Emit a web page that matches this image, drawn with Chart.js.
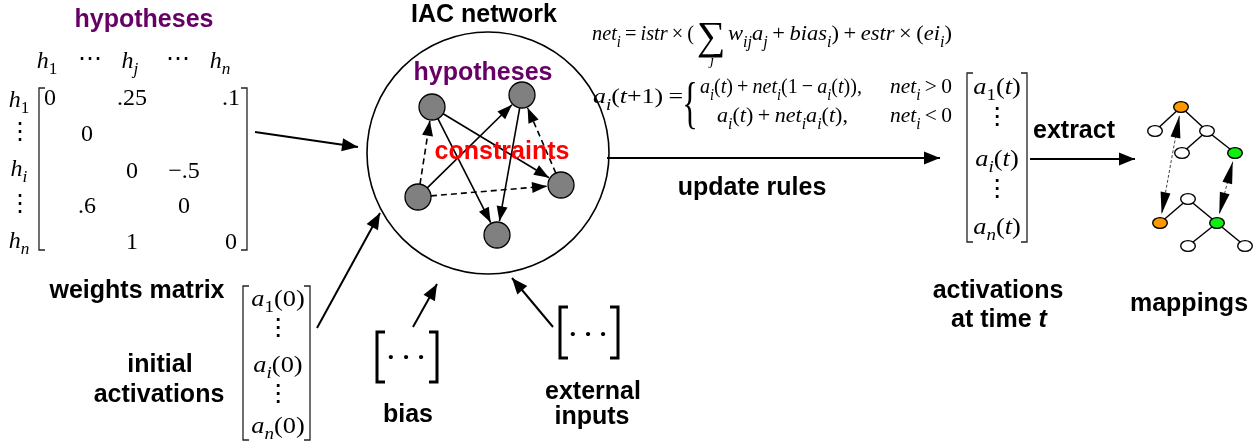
<!DOCTYPE html>
<html>
<head>
<meta charset="utf-8">
<script src="https://cdn.jsdelivr.net/npm/chart.js@4.4.1/dist/chart.umd.min.js"></script>
<style>
  html, body { margin: 0; padding: 0; background: #fff; }
  canvas { display: block; }
</style>
</head>
<body>
<canvas id="diagram" width="1260" height="447"></canvas>
<script>
"use strict";

// ---- content ----
const matrixHeads = ['h_1', '⋯', 'h_j', '⋯', 'h_n'];
const matrixRows = ['h_1', '⋮', 'h_i', '⋮', 'h_n'];
// [row, col, value]
const weightCells = [
    [0, 0, '0'], [0, 2, '.25'], [0, 4, '.1'],
    [1, 1, '0'],
    [2, 2, '0'], [2, 3, '−.5'],
    [3, 1, '.6'], [3, 3, '0'],
    [4, 2, '1'], [4, 4, '0']
];
const initialActs = ['a_1(0)', '⋮', 'a_i(0)', '⋮', 'a_n(0)'];
const currentActs = ['a_1(t)', '⋮', 'a_i(t)', '⋮', 'a_n(t)'];

// IAC network: node centres, then edges [from, to, dashed]
const netNodes = [[432, 107], [522, 95], [418, 197], [561, 185], [497, 235]];
const netEdges = [[0, 3, false], [0, 4, false], [2, 1, false], [1, 4, false],
                  [2, 0, true], [2, 3, true], [3, 1, true]];

// mapping trees: node centres + fill, edges, correspondences
const treeNodes = [
    [1181, 107, 'o'], [1155, 131, 'w'], [1207, 131, 'w'], [1182, 153, 'w'], [1235, 153, 'g'],
    [1188, 199, 'w'], [1160, 223, 'o'], [1217, 223, 'g'], [1188, 246, 'w'], [1245, 246, 'w']
];
const treeEdges = [[0, 1], [0, 2], [2, 3], [2, 4], [5, 6], [5, 7], [7, 8], [7, 9]];
const treeLinks = [[0, 6], [4, 7]];

const flowArrows = [
    [[255, 132], [358, 147]],
    [[317, 328], [380, 213]],
    [[607, 158], [940, 158]],
    [[1030, 159], [1135, 159]],
    [[413, 327], [437, 284]],
    [[553, 327], [512, 278]]
];

// ---- style ----
const W = 1260, H = 447;
const PURPLE = '#660066', RED = '#ff0000';
const SANS = "'Liberation Sans', Arial, sans-serif";
const SERIF = "'Liberation Serif', 'Times New Roman', 'DejaVu Serif', serif";
const FILLS = { o: '#ff9900', g: '#10ee10', w: '#ffffff' };

const boldLabels = [
    { t: 'hypotheses', x: 144, y: 27, c: PURPLE },
    { t: 'IAC network', x: 484, y: 22 },
    { t: 'hypotheses', x: 483, y: 80, c: PURPLE },
    { t: 'constraints', x: 502, y: 159, c: RED },
    { t: 'weights matrix', x: 137, y: 298 },
    { t: 'initial', x: 160, y: 372 },
    { t: 'activations', x: 159, y: 402 },
    { t: 'update rules', x: 752, y: 195 },
    { t: 'extract', x: 1074, y: 138 },
    { t: 'bias', x: 408, y: 422 },
    { t: 'external', x: 593, y: 399 },
    { t: 'inputs', x: 592, y: 424 },
    { t: 'activations', x: 998, y: 298 },
    { t: 'mappings', x: 1189, y: 311 }
];

const equations = [
    { s: 'net_i = istr × (', x: 592, y: 40, w: 102 },
    { s: 'w_{ij}a_j + bias_i) + estr × (ei_i)', x: 728, y: 40, w: 224 },
    { s: 'a_i(t+1) =', x: 593, y: 103, w: 90 },
    { s: 'a_i(t) + net_i(1 − a_i(t)),', x: 700, y: 93, w: 162 },
    { s: 'net_i > 0', x: 890, y: 93, w: 62 },
    { s: 'a_i(t) + net_ia_i(t),', x: 717, y: 122, w: 131 },
    { s: 'net_i < 0', x: 890, y: 122, w: 62 }
];

const headX = [47, 90, 130, 178, 220];
const rowLabelY = [101, 133, 170, 205, 242];
const colX = [50, 87, 132, 184, 231];
const rowY = [99, 135, 172, 207, 243];
const initY = [300, 329, 366, 395, 427];
const actY = [88, 118, 160, 190, 228];

// ---- helpers ----
const pts = arr => arr.map(([x, y]) => ({ x, y }));

function trim(a, b, ra, rb) {
    const dx = b[0] - a[0], dy = b[1] - a[1], d = Math.hypot(dx, dy);
    return [[a[0] + dx / d * ra, a[1] + dy / d * ra], [b[0] - dx / d * rb, b[1] - dy / d * rb]];
}

function bracket(x, top, bottom, dir, tick) {
    return [[x + dir * tick, top], [x, top], [x, bottom], [x + dir * tick, bottom]];
}

function ellipseImage(fill) {
    const c = document.createElement('canvas');
    c.width = 18; c.height = 14;
    const g = c.getContext('2d');
    g.beginPath();
    g.ellipse(9, 7, 7.3, 5.4, 0, 0, Math.PI * 2);
    g.fillStyle = fill; g.fill();
    g.lineWidth = 1.4; g.strokeStyle = '#000'; g.stroke();
    return c;
}
const treeImages = { o: ellipseImage(FILLS.o), g: ellipseImage(FILLS.g), w: ellipseImage(FILLS.w) };

function mathFont(ch, size, bold) {
    return (/[A-Za-z]/.test(ch) ? 'italic ' : '') + (bold ? 'bold ' : '') + size + 'px ' + SERIF;
}

// tiny math typesetter: letters italic, rest upright, _x or _{xy} subscripts
function drawMath(ctx, src, x, y, o) {
    const size = o.size || 21;
    const runs = [];
    for (let i = 0; i < src.length;) {
        let sub = false, txt;
        if (src[i] === '_') {
            sub = true; i++;
            if (src[i] === '{') { const j = src.indexOf('}', i); txt = src.slice(i + 1, j); i = j + 1; }
            else { txt = src[i]; i++; }
        } else { txt = src[i]; i++; }
        for (const c of txt) runs.push({ c, sub });
    }
    let total = 0;
    runs.forEach(r => {
        r.font = mathFont(r.c, r.sub ? size * 0.72 : size, o.bold);
        ctx.font = r.font;
        r.w = r.c === ' ' ? size * 0.2 : ctx.measureText(r.c).width;
        total += r.w;
    });
    const k = o.w ? o.w / total : (o.sx || 1);
    let cx = o.align === 'center' ? -total / 2 : o.align === 'right' ? -total : 0;
    ctx.save();
    ctx.translate(x, y);
    ctx.scale(k, 1);
    ctx.fillStyle = o.color || '#000';
    ctx.textAlign = 'left';
    ctx.textBaseline = o.baseline || 'alphabetic';
    runs.forEach(r => {
        ctx.font = r.font;
        if (r.c !== ' ') ctx.fillText(r.c, cx, r.sub ? size * 0.3 : 0);
        cx += r.w;
    });
    ctx.restore();
}

// ---- datasets ----
const datasets = [];
function addLine(points, opts) {
    datasets.push(Object.assign({
        data: pts(points), showLine: true, pointRadius: 0, borderColor: '#000',
        borderWidth: 2, fill: false, tension: 0, order: 3
    }, opts));
}

// big circle
datasets.push({
    data: pts([[488, 153]]), pointRadius: 121, pointBackgroundColor: '#fff',
    pointBorderColor: '#000', pointBorderWidth: 1.6, order: 9
});

// network edges
netEdges.forEach(([a, b, dashed]) => {
    addLine(trim(netNodes[a], netNodes[b], 13, 14), {
        borderWidth: 1.6, borderDash: dashed ? [6, 4] : [], heads: ['end'], headSize: [15, 5.5]
    });
});
// network nodes
datasets.push({
    data: pts(netNodes), pointRadius: 13, pointBackgroundColor: '#808080',
    pointBorderColor: '#000', pointBorderWidth: 1.3, order: 1
});

// tree edges + nodes
treeEdges.forEach(([a, b]) => addLine([treeNodes[a], treeNodes[b]], { borderWidth: 1.5 }));
treeLinks.forEach(([a, b]) => {
    addLine(trim(treeNodes[a], treeNodes[b], 9, 9), {
        borderWidth: 1, borderColor: '#444', borderDash: [3, 2], heads: ['start', 'end'], headSize: [22, 5]
    });
});
datasets.push({
    data: pts(treeNodes), pointStyle: treeNodes.map(n => treeImages[n[2]]),
    pointRadius: 7, order: 1
});

// flow arrows
flowArrows.forEach(seg => addLine(seg, { borderWidth: 2, heads: ['end'], headSize: [16, 6.5] }));

// brackets
const thin = { borderWidth: 1.3, borderColor: '#222', borderJoinStyle: 'miter' };
const thick = { borderWidth: 3, borderColor: '#000', borderJoinStyle: 'miter' };
addLine(bracket(39, 88, 250, 1, 6), thin);
addLine(bracket(247, 88, 250, -1, 6), thin);
addLine(bracket(243, 286, 440, 1, 6), thin);
addLine(bracket(310, 286, 440, -1, 6), thin);
addLine(bracket(967, 73, 242, 1, 6), thin);
addLine(bracket(1027, 73, 242, -1, 6), thin);
addLine(bracket(377, 332, 382, 1, 8), thick);
addLine(bracket(437, 332, 382, -1, 8), thick);
addLine(bracket(560, 307, 358, 1, 8), thick);
addLine(bracket(618, 307, 358, -1, 8), thick);

// ---- plugins ----
const arrowPlugin = {
    id: 'arrowHeads',
    afterDatasetsDraw(chart) {
        const ctx = chart.ctx;
        ctx.save();
        ctx.fillStyle = '#000';
        chart.data.datasets.forEach((ds, i) => {
            if (!ds.heads) return;
            const p = chart.getDatasetMeta(i).data;
            const [len, half] = ds.headSize;
            const head = (tip, from) => {
                const dx = tip.x - from.x, dy = tip.y - from.y, d = Math.hypot(dx, dy);
                const ux = dx / d, uy = dy / d;
                const bx = tip.x - ux * len, by = tip.y - uy * len;
                ctx.beginPath();
                ctx.moveTo(tip.x, tip.y);
                ctx.lineTo(bx - uy * half, by + ux * half);
                ctx.lineTo(bx + uy * half, by - ux * half);
                ctx.closePath();
                ctx.fill();
            };
            if (ds.heads.includes('end')) head(p[p.length - 1], p[p.length - 2]);
            if (ds.heads.includes('start')) head(p[0], p[1]);
        });
        ctx.restore();
    }
};

const textPlugin = {
    id: 'diagramText',
    afterDraw(chart) {
        const ctx = chart.ctx;
        const X = v => chart.scales.x.getPixelForValue(v);
        const Y = v => chart.scales.y.getPixelForValue(v);
        ctx.save();

        ctx.textAlign = 'center';
        ctx.textBaseline = 'alphabetic';
        boldLabels.forEach(l => {
            ctx.font = 'bold 25px ' + SANS;
            ctx.fillStyle = l.c || '#000';
            ctx.fillText(l.t, X(l.x), Y(l.y));
        });
        // "at time t" with italic t
        ctx.fillStyle = '#000';
        ctx.font = 'bold 25px ' + SANS;
        const a = 'at time ', wa = ctx.measureText(a).width;
        ctx.font = 'italic bold 25px ' + SANS;
        const wt = ctx.measureText('t').width;
        ctx.textAlign = 'left';
        const x0 = X(999) - (wa + wt) / 2;
        ctx.font = 'bold 25px ' + SANS;
        ctx.fillText(a, x0, Y(327));
        ctx.font = 'italic bold 25px ' + SANS;
        ctx.fillText('t', x0 + wa, Y(327));

        // weights matrix
        const mopt = { size: 24, sx: 1.0, align: 'center', baseline: 'middle' };
        matrixHeads.forEach((s, i) => drawMath(ctx, s, X(headX[i]), Y(i % 2 ? 60 : 62), mopt));
        matrixRows.forEach((s, i) => drawMath(ctx, s, X(i % 2 ? 20 : 19), Y(rowLabelY[i]), mopt));
        weightCells.forEach(([r, c, v]) => drawMath(ctx, v, X(colX[c]), Y(rowY[r]), mopt));

        // activation vectors
        const vopt = { size: 24, sx: 1.1, align: 'center', baseline: 'middle' };
        initialActs.forEach((s, i) => drawMath(ctx, s, X(278), Y(initY[i]), vopt));
        currentActs.forEach((s, i) => drawMath(ctx, s, X(997), Y(actY[i]), vopt));

        // update rule equations
        equations.forEach(e => drawMath(ctx, e.s, X(e.x), Y(e.y), { size: 22, w: e.w }));
        drawMath(ctx, '∑', X(711), Y(49), { size: 40, align: 'center' });
        drawMath(ctx, 'j', X(712), Y(65), { size: 15, align: 'center' });
        ctx.save();
        ctx.translate(X(690), Y(107));
        ctx.scale(0.6, 1.05);
        ctx.font = '54px ' + SERIF;
        ctx.textAlign = 'center';
        ctx.textBaseline = 'middle';
        ctx.fillStyle = '#000';
        ctx.fillText('{', 0, 0);
        ctx.restore();

        // bias / external input placeholders
        ctx.font = 'bold 26px ' + SERIF;
        ctx.textAlign = 'center';
        ctx.textBaseline = 'middle';
        ctx.fillText('· · ·', X(406), Y(358));
        ctx.fillText('· · ·', X(588), Y(335));

        ctx.restore();
    }
};

new Chart(document.getElementById('diagram'), {
    type: 'scatter',
    data: { datasets },
    options: {
        responsive: false,
        animation: false,
        events: [],
        layout: { padding: 0, autoPadding: false },
        plugins: {
            legend: { display: false },
            tooltip: { enabled: false }
        },
        scales: {
            x: { type: 'linear', min: 0, max: W, display: false },
            y: { type: 'linear', min: 0, max: H, reverse: true, display: false }
        }
    },
    plugins: [arrowPlugin, textPlugin]
});
</script>
</body>
</html>
